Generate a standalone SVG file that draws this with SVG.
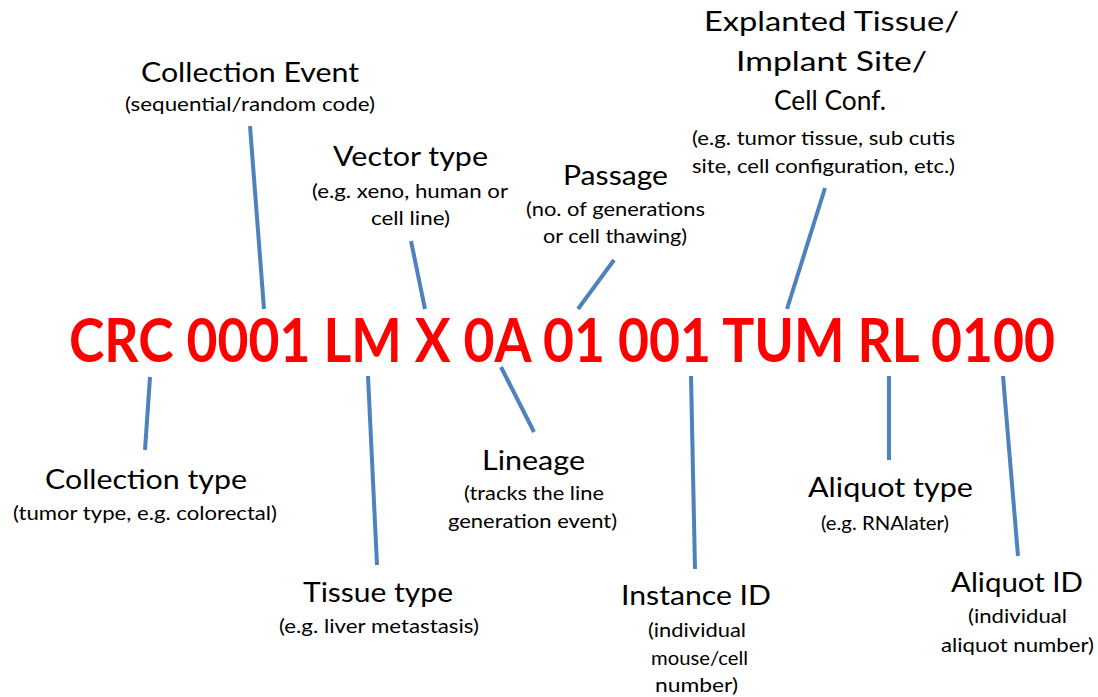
<svg xmlns="http://www.w3.org/2000/svg" width="1098" height="697" viewBox="0 0 1098 697">
  <style>
    .t { font-family: Lato, "Open Sans", "Liberation Sans", sans-serif; font-size: 26px; fill: #000; }
    .s { font-family: Lato, "Open Sans", "Liberation Sans", sans-serif; font-size: 19px; fill: #000; }
    .code { font-family: Lato, "Open Sans", "Liberation Sans", sans-serif; font-size: 52px; font-weight: bold; fill: #FF0000; }
    .ln { stroke: #4F81BD; stroke-width: 4; fill: none; }
  </style>
  <rect width="1098" height="697" fill="#ffffff"/>

  <!-- sample identifier, stretched vertically to a tall condensed look -->
  <g id="sample-code" transform="translate(69,362) scale(1,1.17)">
    <text class="code" x="0" y="0" textLength="986" lengthAdjust="spacingAndGlyphs">CRC 0001 LM X 0A 01 001 TUM RL 0100</text>
  </g>

  <g id="connectors">
    <line class="ln" x1="250" y1="126" x2="264" y2="309"/>
    <line class="ln" x1="411" y1="241" x2="425" y2="309"/>
    <line class="ln" x1="614" y1="260" x2="578" y2="309"/>
    <line class="ln" x1="825" y1="188" x2="787" y2="309"/>
    <line class="ln" x1="150" y1="377" x2="145" y2="450"/>
    <line class="ln" x1="368" y1="376" x2="377" y2="565"/>
    <line class="ln" x1="501" y1="367" x2="534" y2="432"/>
    <line class="ln" x1="691" y1="376" x2="695" y2="569"/>
    <line class="ln" x1="889" y1="376" x2="889" y2="460"/>
    <line class="ln" x1="1003" y1="376" x2="1018" y2="556"/>
  </g>

  <g id="collection-event">
    <text class="t" x="141" y="82" textLength="218" lengthAdjust="spacingAndGlyphs">Collection Event</text>
    <text class="s" x="125" y="111" textLength="250" lengthAdjust="spacingAndGlyphs">(sequential/random code)</text>
  </g>

  <g id="vector-type">
    <text class="t" x="333" y="166" textLength="155" lengthAdjust="spacingAndGlyphs">Vector type</text>
    <text class="s" x="312" y="198" textLength="196" lengthAdjust="spacingAndGlyphs">(e.g. xeno, human or</text>
    <text class="s" x="371" y="225" textLength="79" lengthAdjust="spacingAndGlyphs">cell line)</text>
  </g>

  <g id="passage">
    <text class="t" x="563" y="185" textLength="105" lengthAdjust="spacingAndGlyphs">Passage</text>
    <text class="s" x="526" y="216" textLength="179" lengthAdjust="spacingAndGlyphs">(no. of generations</text>
    <text class="s" x="543" y="243" textLength="144" lengthAdjust="spacingAndGlyphs">or cell thawing)</text>
  </g>

  <g id="explanted-tissue">
    <text class="t" x="704" y="31" textLength="255" lengthAdjust="spacingAndGlyphs">Explanted Tissue/</text>
    <text class="t" x="736" y="71" textLength="191" lengthAdjust="spacingAndGlyphs">Implant Site/</text>
    <text class="t" x="774" y="110" textLength="112" lengthAdjust="spacingAndGlyphs">Cell Conf.</text>
    <text class="s" x="692" y="145" textLength="263" lengthAdjust="spacingAndGlyphs">(e.g. tumor tissue, sub cutis</text>
    <text class="s" x="692" y="173" textLength="263" lengthAdjust="spacingAndGlyphs">site, cell configuration, etc.)</text>
  </g>

  <g id="collection-type">
    <text class="t" x="45" y="489" textLength="202" lengthAdjust="spacingAndGlyphs">Collection type</text>
    <text class="s" x="13" y="520" textLength="264" lengthAdjust="spacingAndGlyphs">(tumor type, e.g. colorectal)</text>
  </g>

  <g id="tissue-type">
    <text class="t" x="303" y="602" textLength="150" lengthAdjust="spacingAndGlyphs">Tissue type</text>
    <text class="s" x="279" y="633" textLength="200" lengthAdjust="spacingAndGlyphs">(e.g. liver metastasis)</text>
  </g>

  <g id="lineage">
    <text class="t" x="482" y="470" textLength="103" lengthAdjust="spacingAndGlyphs">Lineage</text>
    <text class="s" x="464" y="500" textLength="140" lengthAdjust="spacingAndGlyphs">(tracks the line</text>
    <text class="s" x="448" y="528" textLength="169" lengthAdjust="spacingAndGlyphs">generation event)</text>
  </g>

  <g id="instance-id">
    <text class="t" x="621" y="605" textLength="150" lengthAdjust="spacingAndGlyphs">Instance ID</text>
    <text class="s" x="648" y="637" textLength="98" lengthAdjust="spacingAndGlyphs">(individual</text>
    <text class="s" x="651" y="665" textLength="97" lengthAdjust="spacingAndGlyphs">mouse/cell</text>
    <text class="s" x="655" y="692" textLength="83" lengthAdjust="spacingAndGlyphs">number)</text>
  </g>

  <g id="aliquot-type">
    <text class="t" x="808" y="497" textLength="165" lengthAdjust="spacingAndGlyphs">Aliquot type</text>
    <text class="s" x="821" y="530" textLength="128" lengthAdjust="spacingAndGlyphs">(e.g. RNAlater)</text>
  </g>

  <g id="aliquot-id">
    <text class="t" x="951" y="592" textLength="132" lengthAdjust="spacingAndGlyphs">Aliquot ID</text>
    <text class="s" x="968" y="623" textLength="99" lengthAdjust="spacingAndGlyphs">(individual</text>
    <text class="s" x="941" y="652" textLength="153" lengthAdjust="spacingAndGlyphs">aliquot number)</text>
  </g>
</svg>
